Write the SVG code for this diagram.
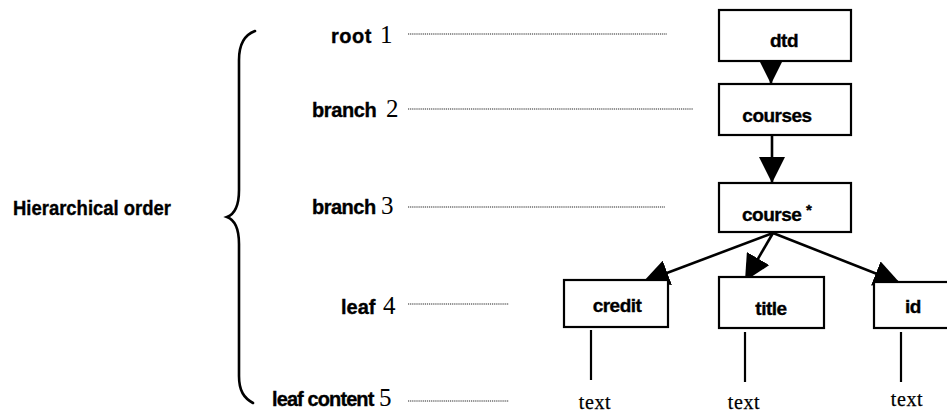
<svg xmlns="http://www.w3.org/2000/svg" width="947" height="413" viewBox="0 0 947 413">
  <style>
    .bg { fill: #ffffff; }
    .box { fill: #ffffff; stroke: #000000; stroke-width: 2.2; }
    .lbl { font-family: "Liberation Sans", Arial, sans-serif; font-weight: bold; font-size: 19px; letter-spacing: -0.5px; fill: #000000; stroke: #000000; stroke-width: 0.35px; }
    .lvl { font-family: "Liberation Sans", Arial, sans-serif; font-weight: bold; font-size: 20px; fill: #000000; stroke: #000000; stroke-width: 0.35px; }
    .num { font-family: "Liberation Serif", "Times New Roman", serif; font-weight: normal; font-size: 25px; letter-spacing: 0; stroke: none; }
    .txt { font-family: "Liberation Serif", "Times New Roman", serif; font-size: 20px; letter-spacing: 0.6px; fill: #000000; stroke: #000000; stroke-width: 0.25px; }
    .dots { stroke: #222222; stroke-width: 1.2; stroke-dasharray: 1.2 0.9; fill: none; }
    .edge { stroke: #000000; stroke-width: 2.6; fill: none; }
    .stem { stroke: #000000; stroke-width: 2.2; fill: none; }
    .brace { stroke: #000000; stroke-width: 2.6; fill: none; stroke-linecap: round; }
  </style>
  <defs>
    <marker id="head" viewBox="0 0 26 26" refX="26" refY="13" markerWidth="26" markerHeight="26" markerUnits="userSpaceOnUse" orient="auto">
      <path d="M0,0 L26,13 L0,26 Z" fill="#000000"/>
    </marker>
  </defs>

  <rect class="bg" x="0" y="0" width="947" height="413"/>

  <!-- side caption and brace -->
  <g id="caption">
    <text class="lvl" x="13" y="215" textLength="158" lengthAdjust="spacingAndGlyphs">Hierarchical order</text>
    <path class="brace" d="M255,31 C244,35 239,45 239,60 L239,190 C239,205 235,214 227,217 C235,220 239,229 239,244 L239,376 C239,391 244,398 253,403"/>
  </g>

  <!-- level labels with leader dots -->
  <g id="levels">
    <g id="level-1">
      <text class="lvl" x="331" y="43" font-size="21" letter-spacing="0.5">root<tspan class="num" x="380">1</tspan></text>
      <line class="dots" x1="408" y1="34" x2="667" y2="34"/>
    </g>
    <g id="level-2">
      <text class="lvl" x="312" y="117" letter-spacing="-0.4">branch<tspan class="num" x="386">2</tspan></text>
      <line class="dots" x1="408" y1="109" x2="693" y2="109"/>
    </g>
    <g id="level-3">
      <text class="lvl" x="312" y="214" letter-spacing="-0.5">branch<tspan class="num" x="381">3</tspan></text>
      <line class="dots" x1="408" y1="207" x2="665" y2="207"/>
    </g>
    <g id="level-4">
      <text class="lvl" x="341" y="314">leaf<tspan class="num" x="383">4</tspan></text>
      <line class="dots" x1="408" y1="304" x2="509" y2="304"/>
    </g>
    <g id="level-5">
      <text class="lvl" x="272" y="406" font-size="19" letter-spacing="-0.9">leaf content<tspan class="num" x="379">5</tspan></text>
      <line class="dots" x1="408" y1="401" x2="509" y2="401"/>
    </g>
  </g>

  <!-- tree edges -->
  <g id="connectors">
    <line class="edge" x1="771" y1="60" x2="771" y2="84" marker-end="url(#head)"/>
    <line class="edge" x1="772" y1="135" x2="772" y2="183" marker-end="url(#head)"/>
    <line class="edge" x1="773" y1="233" x2="643" y2="282" marker-end="url(#head)"/>
    <line class="edge" x1="773" y1="233" x2="745" y2="281" marker-end="url(#head)"/>
    <line class="edge" x1="773" y1="233" x2="900" y2="283" marker-end="url(#head)"/>
    <line class="stem" x1="591" y1="330" x2="591" y2="380"/>
    <line class="stem" x1="745" y1="332" x2="745" y2="382"/>
    <line class="stem" x1="901" y1="332" x2="901" y2="382"/>
  </g>

  <!-- element nodes -->
  <g id="node-dtd">
    <rect class="box" x="719" y="10" width="132" height="51"/>
    <text class="lbl" x="784" y="47" text-anchor="middle">dtd</text>
  </g>
  <g id="node-courses">
    <rect class="box" x="719" y="84" width="132" height="51"/>
    <text class="lbl" x="777" y="122" text-anchor="middle">courses</text>
  </g>
  <g id="node-course">
    <rect class="box" x="719" y="183" width="132" height="49"/>
    <text class="lbl" x="742" y="221">course <tspan dy="-6" font-size="15">*</tspan></text>
  </g>
  <g id="node-credit">
    <rect class="box" x="564" y="280" width="104" height="47"/>
    <text class="lbl" x="617" y="312" text-anchor="middle">credit</text>
  </g>
  <g id="node-title">
    <rect class="box" x="719" y="277" width="105" height="51"/>
    <text class="lbl" x="771" y="315" text-anchor="middle">title</text>
  </g>
  <g id="node-id">
    <rect class="box" x="874" y="282" width="78" height="46"/>
    <text class="lbl" x="913" y="313" text-anchor="middle">id</text>
  </g>

  <!-- leaf contents -->
  <g id="content-credit"><text class="txt" x="595" y="409" text-anchor="middle">text</text></g>
  <g id="content-title"><text class="txt" x="744" y="409" text-anchor="middle">text</text></g>
  <g id="content-id"><text class="txt" x="907" y="406" text-anchor="middle">text</text></g>
</svg>
